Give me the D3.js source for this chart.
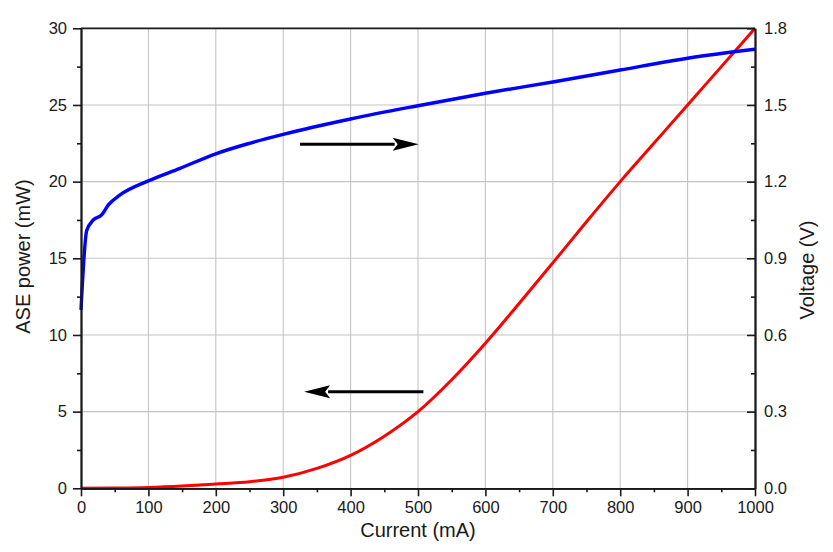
<!DOCTYPE html>
<html>
<head>
<meta charset="utf-8">
<script src="https://cdn.jsdelivr.net/npm/d3@7"></script>
<style>
body { margin: 0; background: #fff; }
svg { display: block; font-family: "Liberation Sans", Arial, sans-serif; }
.grid line { stroke: #c4c4c4; stroke-width: 1.1; }
.axis path, .axis line { stroke: #1a1a1a; }
.axis path { stroke-width: 1.8; }
.axis line { stroke-width: 1.6; }
.axis text { font-size: 16.5px; fill: #1a1a1a; font-family: "Liberation Sans", Arial, sans-serif; }
.label { font-size: 20px; fill: #1a1a1a; }
</style>
</head>
<body>
<svg id="chart" width="833" height="552"></svg>
<script>
// ASE power vs current (left axis)
const aseCurrent = [0, 50, 100, 150, 200, 250, 300, 350, 400, 450, 500, 550, 600, 650, 700, 750, 800, 850, 900, 950, 1000];
const asePower = [0, 0.02, 0.06, 0.15, 0.28, 0.43, 0.72, 1.3, 2.15, 3.4, 5.0, 7.08, 9.46, 12.05, 14.7, 17.38, 20.0, 22.5, 25.0, 27.5, 30.0];

// voltage vs current (right axis)
const voltCurrent = [0, 8.4, 18.3, 30.7, 40.6, 58, 100, 147, 200, 250, 300, 400, 500, 600, 700, 800, 900, 1000];
const voltage = [0.698, 1.008, 1.05, 1.07, 1.109, 1.148, 1.203, 1.252, 1.309, 1.35, 1.385, 1.445, 1.497, 1.546, 1.590, 1.637, 1.683, 1.718];

// ticks
const xTicks = [0, 100, 200, 300, 400, 500, 600, 700, 800, 900, 1000];
const yLeftTicks = [0, 5, 10, 15, 20, 25, 30];
const yRightTicks = [0, 0.3, 0.6, 0.9, 1.2, 1.5, 1.8];

// arrows: [fromCurrent, fromPower] -> [toCurrent, toPower], in left axis units
const arrowFrom = [[325, 22.44], [508, 6.3]];
const arrowTo = [[501, 22.44], [331, 6.3]];

const svg = d3.select("#chart");
const M = {left: 81, right: 755, top: 28.3, bottom: 488.3};

const x = d3.scaleLinear().domain([0, 1000]).range([M.left, M.right]);
const yL = d3.scaleLinear().domain([0, 30]).range([M.bottom, M.top]);
const yR = d3.scaleLinear().domain([0, 1.8]).range([M.bottom, M.top]);

svg.append("rect").attr("width", 833).attr("height", 552).attr("fill", "#fff");

//Grid
const grid = svg.append("g").attr("class", "grid");
grid.selectAll(".gx").data(xTicks.slice(1, -1)).enter().append("line")
	.attr("x1", d => x(d)).attr("x2", d => x(d))
	.attr("y1", M.top).attr("y2", M.bottom);
grid.selectAll(".gy").data(yLeftTicks.slice(1, -1)).enter().append("line")
	.attr("x1", M.left).attr("x2", M.right)
	.attr("y1", d => yL(d)).attr("y2", d => yL(d));

//Curves
const redLine = d3.line().x(d => x(d[0])).y(d => yL(d[1])).curve(d3.curveMonotoneX);
svg.append("path")
	.datum(aseCurrent.map((c, i) => [c, asePower[i]]))
	.attr("d", redLine)
	.attr("fill", "none").attr("stroke", "#ff0000").attr("stroke-width", 3);

const blueLine = d3.line().x(d => x(d[0])).y(d => yR(d[1])).curve(d3.curveMonotoneX);
svg.append("path")
	.datum(voltCurrent.map((c, i) => [c, voltage[i]]))
	.attr("d", blueLine)
	.attr("fill", "none").attr("stroke", "#0000ff").attr("stroke-width", 3.4)
	.attr("stroke-linejoin", "round");

//Frame top
svg.append("line")
	.attr("x1", M.left).attr("x2", M.right).attr("y1", M.top).attr("y2", M.top)
	.attr("stroke", "#1a1a1a").attr("stroke-width", 1.8);

//Axes with minor ticks
const minorX = d3.range(50, 1000, 100);
const minorL = d3.range(2.5, 30, 5);
const minorR = d3.range(0.15, 1.8, 0.3);

svg.append("g").attr("class", "axis")
	.attr("transform", `translate(0,${M.bottom})`)
	.call(d3.axisBottom(x).tickValues(xTicks).tickSize(8).tickSizeOuter(0).tickPadding(5).tickFormat(d3.format("d")));
svg.append("g").attr("class", "axis")
	.attr("transform", `translate(0,${M.bottom})`)
	.call(d3.axisBottom(x).tickValues(minorX).tickSize(4).tickSizeOuter(0).tickFormat(""));

svg.append("g").attr("class", "axis")
	.attr("transform", `translate(${M.left},0)`)
	.call(d3.axisLeft(yL).tickValues(yLeftTicks).tickSize(8).tickSizeOuter(0).tickPadding(6));
svg.append("g").attr("class", "axis")
	.attr("transform", `translate(${M.left},0)`)
	.call(d3.axisLeft(yL).tickValues(minorL).tickSize(4).tickSizeOuter(0).tickFormat(""));

svg.append("g").attr("class", "axis")
	.attr("transform", `translate(${M.right},0)`)
	.call(d3.axisRight(yR).tickValues(yRightTicks).tickSize(-8).tickSizeOuter(0).tickPadding(9).tickFormat(d3.format(".1f")));
svg.append("g").attr("class", "axis")
	.attr("transform", `translate(${M.right},0)`)
	.call(d3.axisRight(yR).tickValues(minorR).tickSize(-4).tickSizeOuter(0).tickFormat(""));

//Arrows
const HEAD_LEN = 26, HEAD_W = 6.5;
arrowFrom.forEach((f, i) => {
	const t = arrowTo[i];
	const x1 = x(f[0]), y1 = yL(f[1]), x2 = x(t[0]), y2 = yL(t[1]);
	const dir = Math.sign(x2 - x1);
	const bx = x2 - dir * HEAD_LEN;
	svg.append("line")
		.attr("x1", x1).attr("y1", y1).attr("x2", bx + dir * 2).attr("y2", y2)
		.attr("stroke", "#000").attr("stroke-width", 3);
	svg.append("path")
		.attr("d", `M${x2},${y2} L${bx},${y2 - HEAD_W} L${bx + dir * 5},${y2} L${bx},${y2 + HEAD_W} Z`)
		.attr("fill", "#000");
});

//Axis labels
svg.append("text").attr("class", "label")
	.attr("x", (M.left + M.right) / 2).attr("y", 537)
	.attr("text-anchor", "middle").text("Current (mA)");
svg.append("text").attr("class", "label")
	.attr("transform", "translate(30,256.5) rotate(-90)")
	.attr("text-anchor", "middle").text("ASE power (mW)");
svg.append("text").attr("class", "label")
	.attr("transform", "translate(814,270) rotate(-90)")
	.attr("text-anchor", "middle").text("Voltage (V)");
</script>
</body>
</html>
